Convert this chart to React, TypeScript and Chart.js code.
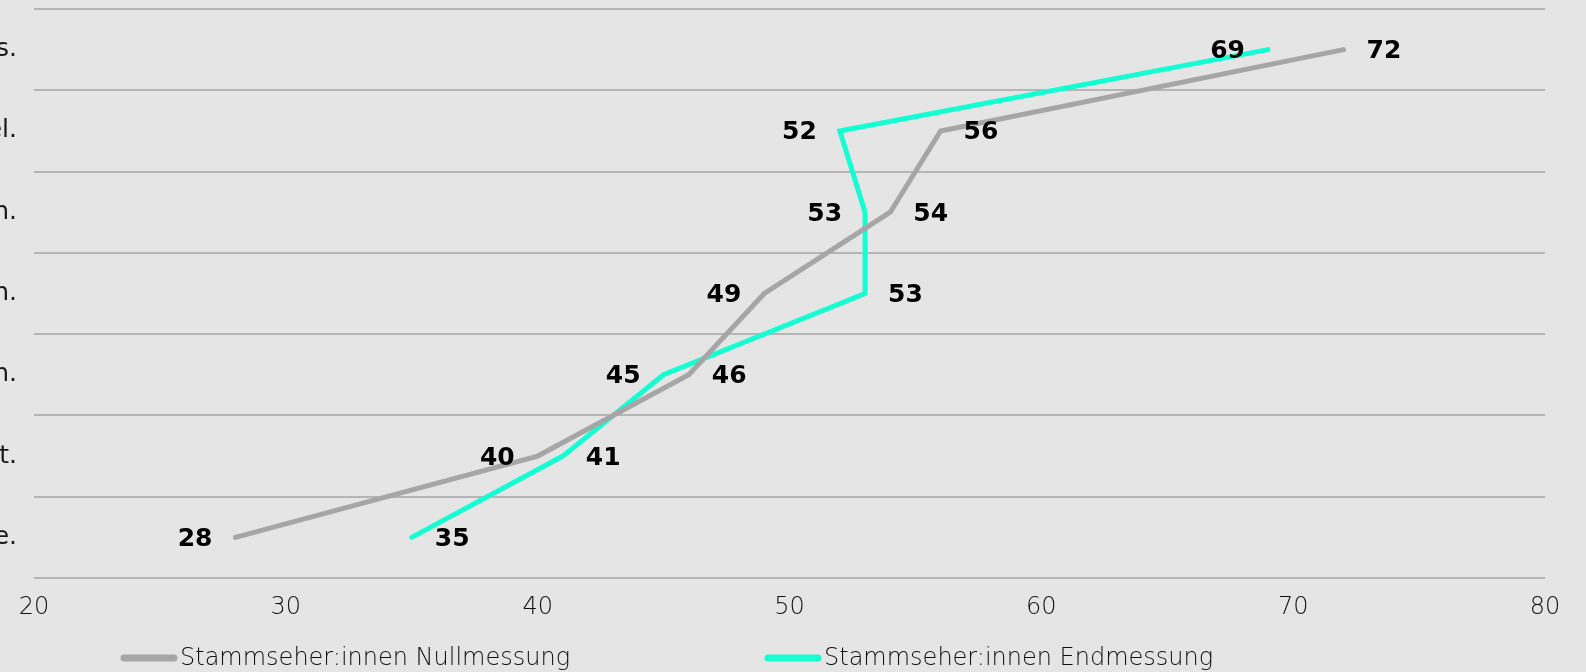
import React, { useEffect, useRef } from 'react';
import { Chart, registerables } from 'chart.js';

Chart.register(...registerables);

// Statement endings shown on the category axis (top to bottom)
const categories = ['s.', 'el.', 'n.', 'n.', 'n.', 't.', 'e.'];

// Agreement scores per statement
const nullmessung = [72, 56, 54, 49, 46, 40, 28];
const endmessung = [69, 52, 53, 53, 45, 41, 35];

const seriesNames = ['Stammseher:innen Nullmessung', 'Stammseher:innen Endmessung'];
const seriesColors = ['#a6a6a6', '#14ffd2'];

const xMin = 20;
const xMax = 80;
const xStep = 10;

const FAMILY = '"DejaVu Sans", "Noto Sans", sans-serif';
const BG = '#e5e5e5';

// Value labels: the larger of the two values sits to the right of its point,
// the smaller one to the left.
const valueLabels = {
  id: 'valueLabels',
  afterDatasetsDraw(chart: any) {
    const ctx = chart.ctx;
    const sets = chart.data.datasets;
    ctx.save();
    ctx.font = `bold 25px ${FAMILY}`;
    ctx.fillStyle = '#000000';
    ctx.textBaseline = 'middle';
    sets.forEach((ds: any, di: number) => {
      const other = sets[1 - di];
      const meta = chart.getDatasetMeta(di);
      meta.data.forEach((pt: any, i: number) => {
        const v = ds.data[i];
        const right = v >= other.data[i];
        ctx.textAlign = right ? 'left' : 'right';
        ctx.fillText(String(v), pt.x + (right ? 23 : -23), pt.y + 2);
      });
    });
    ctx.restore();
  },
};

// Legend with short line swatches along the bottom edge
const lineLegend = {
  id: 'lineLegend',
  afterDraw(chart: any) {
    const ctx = chart.ctx;
    const y = chart.height - 14;
    ctx.save();
    ctx.font = `200 24px ${FAMILY}`;
    ctx.textBaseline = 'middle';
    ctx.textAlign = 'left';
    chart.data.datasets.forEach((ds: any, i: number) => {
      const x = 120 + i * 644;
      ctx.strokeStyle = ds.borderColor;
      ctx.lineWidth = 7;
      ctx.lineCap = 'round';
      ctx.beginPath();
      ctx.moveTo(x + 4, y);
      ctx.lineTo(x + 54, y);
      ctx.stroke();
      ctx.fillStyle = '#111111';
      ctx.fillText(ds.label, x + 60, y + 1);
    });
    ctx.restore();
  },
};

export default function App() {
  const canvasRef = useRef<HTMLCanvasElement | null>(null);

  useEffect(() => {
    document.body.style.margin = '0';
    document.body.style.background = BG;
    const canvas = canvasRef.current;
    if (!canvas) return;

    const chart = new Chart(canvas, {
      type: 'line',
      data: {
        labels: categories,
        datasets: [
          {
            label: seriesNames[0],
            data: nullmessung,
            borderColor: seriesColors[0],
            backgroundColor: seriesColors[0],
            borderWidth: 5,
            borderCapStyle: 'round',
            borderJoinStyle: 'miter',
            pointRadius: 0,
            tension: 0,
          },
          {
            label: seriesNames[1],
            data: endmessung,
            borderColor: seriesColors[1],
            backgroundColor: seriesColors[1],
            borderWidth: 5,
            borderCapStyle: 'round',
            borderJoinStyle: 'miter',
            pointRadius: 0,
            tension: 0,
          },
        ],
      },
      options: {
        indexAxis: 'y',
        animation: false,
        responsive: false,
        devicePixelRatio: 1,
        layout: { padding: { top: 9, right: 41, bottom: 30, left: 0 } },
        plugins: {
          legend: { display: false },
          tooltip: { enabled: false },
        },
        scales: {
          x: {
            type: 'linear',
            position: 'bottom',
            min: xMin,
            max: xMax,
            ticks: {
              stepSize: xStep,
              padding: 15,
              color: '#111111',
              font: { family: FAMILY, size: 24, weight: '200' },
            },
            grid: { display: false, drawTicks: false },
            border: { display: false },
            afterFit(scale: any) {
              scale.height = 64;
            },
          },
          y: {
            type: 'category',
            offset: true,
            ticks: {
              padding: 17,
              color: '#1a1a1a',
              font: { family: FAMILY, size: 25, weight: 'normal' },
            },
            grid: {
              offset: true,
              color: '#b5b5b5',
              lineWidth: 2,
              drawTicks: false,
            },
            border: { display: false },
            afterFit(scale: any) {
              scale.width = 34;
              scale.paddingTop = 0;
              scale.paddingBottom = 0;
            },
          },
        },
      },
      plugins: [valueLabels, lineLegend],
    } as any);

    return () => chart.destroy();
  }, []);

  return (
    <div style={{ width: 1586, height: 672, background: BG, overflow: 'hidden' }}>
      <canvas ref={canvasRef} width={1586} height={672} style={{ display: 'block' }} />
    </div>
  );
}
